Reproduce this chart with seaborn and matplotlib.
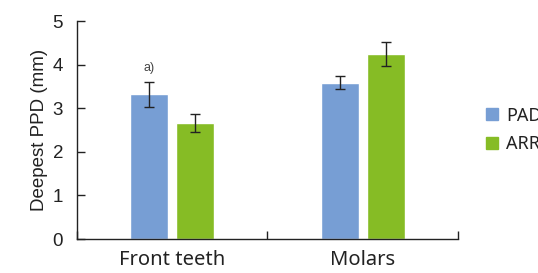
import pandas as pd
import matplotlib.pyplot as plt
import seaborn as sns

# valores
regioes = ["Front teeth", "Molars"]
grupos = ["PAD", "ARR"]
pad_media = [3.32, 3.58]
arr_media = [2.66, 4.24]
pad_erro = [0.29, 0.15]
arr_erro = [0.21, 0.27]
cores = ["#779ed4", "#86bc25"]

dados = pd.DataFrame({
    "Regiao": regioes * 2,
    "Grupo": [grupos[0]] * 2 + [grupos[1]] * 2,
    "PPD": pad_media + arr_media,
    "Erro": pad_erro + arr_erro,
})

sns.set_style("white")
plt.rcParams["font.family"] = ["Liberation Sans", "DejaVu Sans"]

fig = plt.figure(figsize=(5.38, 2.73), dpi=100)
ax = fig.add_axes([0.1431, 0.1245, 0.708, 0.7985])

sns.barplot(data=dados, x="Regiao", y="PPD", hue="Grupo", palette=cores,
            errorbar=None, width=0.484, gap=0.174, saturation=1, ax=ax)

# barras de erro nos centros das barras
for cont, grupo in zip(ax.containers, grupos):
    sub = dados[dados["Grupo"] == grupo]
    xs = [p.get_x() + p.get_width() / 2 for p in cont.patches]
    ax.errorbar(xs, sub["PPD"], yerr=sub["Erro"], fmt="none", ecolor="#222222",
                elinewidth=1, capsize=3.5, capthick=1)

# marca a)
p0 = ax.containers[0].patches[0]
ax.text(p0.get_x() + p0.get_width() / 2, 3.92, "a)", ha="center", va="center",
        fontsize=9, color="#444444")

ax.set_ylim(0, 5)
ax.set_xlim(-0.5, 1.5)
ax.set_yticks([0, 1, 2, 3, 4, 5])
ax.set_xlabel("")
ax.set_ylabel("Deepest PPD (mm)", fontsize=13.5, color="#222222", labelpad=3)
ax.tick_params(axis="y", direction="in", length=6, width=1, labelsize=13.5,
               colors="#222222", left=True, pad=10)
ax.tick_params(axis="x", which="major", length=0, pad=8, labelsize=14.5,
               labelcolor="#222222")
ax.set_xticks([-0.5, 0.5, 1.5], minor=True)
ax.tick_params(axis="x", which="minor", direction="in", length=6, width=1,
               bottom=True, color="#222222")
for lab in ax.get_xticklabels():
    lab.set_family(["Noto Sans", "DejaVu Sans"])

sns.despine(ax=ax)
for s in ["left", "bottom"]:
    ax.spines[s].set_color("#222222")
    ax.spines[s].set_linewidth(1)

ax.legend_.remove()
handles = [plt.Rectangle((0, 0), 1, 1, color=c) for c in cores]
fig.legend(handles, grupos, loc="center left", bbox_to_anchor=(486 / 538, 0.524),
           frameon=False, borderpad=0, borderaxespad=0, handlelength=0.65,
           handleheight=0.65, handletextpad=0.45, labelspacing=0.6,
           prop={"family": ["Noto Sans", "DejaVu Sans"], "size": 13},
           labelcolor="#222222")

fig.savefig("out.png", dpi=100)
